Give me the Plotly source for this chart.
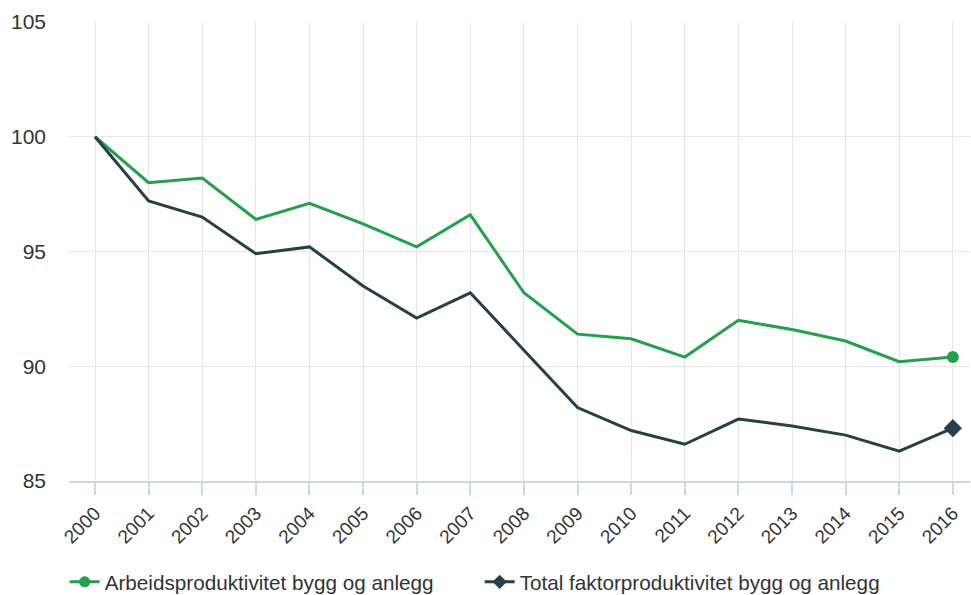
import plotly.graph_objects as go

years = list(range(2000, 2017))
arbeid = [100.0, 98.0, 98.2, 96.4, 97.1, 96.2, 95.2, 96.6, 93.2, 91.4, 91.2, 90.4, 92.0, 91.6, 91.1, 90.2, 90.4]
tfp = [100.0, 97.2, 96.5, 94.9, 95.2, 93.5, 92.1, 93.2, 90.7, 88.2, 87.2, 86.6, 87.7, 87.4, 87.0, 86.3, 87.3]
series_names = ["Arbeidsproduktivitet bygg og anlegg", "Total faktorproduktivitet bygg og anlegg"]
y_ticks = [85, 90, 95, 100, 105]

GREEN = "#22a14a"
DARK = "#25404a"
FONT = "Liberation Sans, Arial, sans-serif"

fig = go.Figure()

for name, vals, color, symbol in [
    (series_names[0], arbeid, GREEN, "circle"),
    (series_names[1], tfp, DARK, "diamond"),
]:
    # full series line
    fig.add_trace(go.Scatter(
        x=years, y=vals, mode="lines", name=name, showlegend=False,
        line=dict(color=color, width=3), hoverinfo="x+y",
    ))
    # marker on the latest observation
    fig.add_trace(go.Scatter(
        x=years[-1:], y=vals[-1:], mode="markers", showlegend=False,
        marker=dict(color=color, size=12 if symbol == "circle" else 14, symbol=symbol),
        hoverinfo="skip",
    ))
    # legend entry
    fig.add_trace(go.Scatter(
        x=[None], y=[None], mode="lines+markers", name=name,
        line=dict(color=color, width=3),
        marker=dict(color=color, size=11, symbol=symbol),
    ))

fig.update_layout(
    width=971, height=595,
    margin=dict(l=69, r=1, t=22, b=114, autoexpand=False),
    paper_bgcolor="white", plot_bgcolor="white",
    font=dict(family=FONT, color="#333333"),
    showlegend=True,
    legend=dict(
        orientation="h", xref="container", yref="container",
        x=0.494, xanchor="center", y=0.022, yanchor="middle",
        font=dict(size=20.7, color="#333333"),
        itemwidth=30, traceorder="normal",
        entrywidth=370, entrywidthmode="pixels",
    ),
    xaxis=dict(
        range=[1999.515, 2016.32],
        tickmode="array", tickvals=years, ticktext=[str(y) for y in years],
        tickangle=-45, tickfont=dict(size=19, color="#333333"),
        showgrid=True, gridcolor="#e6e6e6", gridwidth=1,
        showline=True, linecolor="#ccd6eb", linewidth=1.5,
        ticks="outside", ticklen=12, tickcolor="#ccd6eb", tickwidth=1.5,
        zeroline=False, fixedrange=True, automargin=False,
    ),
    yaxis=dict(
        range=[85, 105], tickmode="array", tickvals=y_ticks,
        tickfont=dict(size=21, color="#333333"),
        showgrid=True, gridcolor="#e6e6e6", gridwidth=1,
        showline=False, zeroline=False, ticks="", ticklabelstandoff=22,
        fixedrange=True, automargin=False,
    ),
)

fig.write_html("out.html")
